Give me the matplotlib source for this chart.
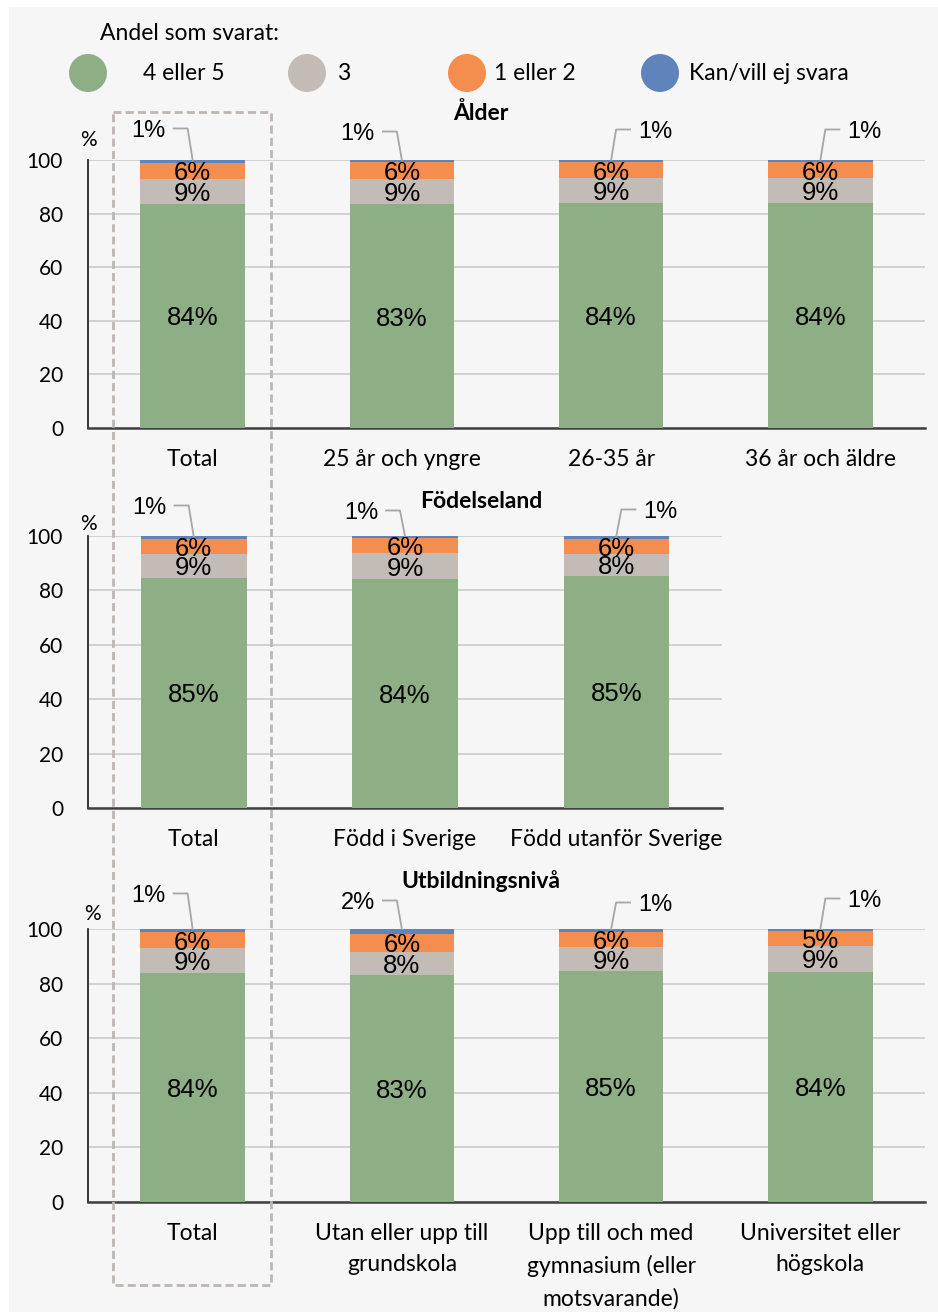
import matplotlib
matplotlib.use("Agg")
import matplotlib.pyplot as plt
from matplotlib.patches import Circle, Rectangle

# ---------------- data ----------------
series_names = ["4 eller 5", "3", "1 eller 2", "Kan/vill ej svara"]
colors = ["#8EAE85", "#C3BBB6", "#F48D4E", "#5F84BC"]

age_title = "Ålder"
age_categories = ["Total", "25 år och yngre", "26-35 år", "36 år och äldre"]
age_45 = [83.6, 83.4, 84.1, 84.1]
age_3 = [9.3, 9.4, 9.2, 9.2]
age_12 = [6.1, 6.3, 5.8, 5.9]
age_na = [1.0, 0.9, 0.9, 0.8]

birth_title = "Födelseland"
birth_categories = ["Total", "Född i Sverige", "Född utanför Sverige"]
birth_45 = [84.7, 84.2, 85.4]
birth_3 = [8.7, 9.4, 7.9]
birth_12 = [5.6, 5.6, 5.6]
birth_na = [1.0, 0.8, 1.1]

edu_title = "Utbildningsnivå"
edu_categories = ["Total", "Utan eller upp till\ngrundskola",
                  "Upp till och med\ngymnasium (eller\nmotsvarande)",
                  "Universitet eller\nhögskola"]
edu_45 = [84.0, 83.3, 84.6, 84.4]
edu_3 = [8.9, 8.4, 8.7, 9.4]
edu_12 = [5.9, 6.4, 5.7, 5.4]
edu_na = [1.2, 1.9, 1.0, 0.8]

yticks = [0, 20, 40, 60, 80, 100]

# ---------------- layout (pixels) ----------------
W, H = 938, 1312
DPI = 100
UI = "Lato"
NUM = "Liberation Sans"
UI_SIZE = 16.5
TICK_SIZE = 15
BAR_SIZE = 18.5
LEAD_SIZE = 17

fig = plt.figure(figsize=(W / DPI, H / DPI), dpi=DPI, facecolor="white")

bg = fig.add_axes([0, 0, 1, 1], zorder=-10)
bg.set_xlim(0, W)
bg.set_ylim(H, 0)
bg.axis("off")
bg.add_patch(Rectangle((9, 7), W - 9, H - 7, facecolor="#F6F6F6", edgecolor="none"))

# legend
bg.text(100, 34, "Andel som svarat:", family=UI, fontsize=UI_SIZE, va="center", ha="left")
leg_circ_x = [88, 307, 467, 660]
leg_text_x = [143, 337, 494, 689]
for cx, tx, c, name in zip(leg_circ_x, leg_text_x, colors, series_names):
    bg.add_patch(Circle((cx, 73), 19, facecolor=c, edgecolor="none"))
    bg.text(tx, 74, name, family=UI, fontsize=UI_SIZE, va="center", ha="left")


def px_axes(left, top, right, bottom):
    return fig.add_axes([left / W, 1 - bottom / H, (right - left) / W, (bottom - top) / H])


def panel(box, title, title_y, pct_xy, cats, s45, s3, s12, sna, leaders):
    left, top, right, bottom = box
    ax = px_axes(left, top, right, bottom)
    ax.set_facecolor("none")
    n = len(cats)
    x = list(range(n))
    slot_px = (right - left) / n
    unit_px = (bottom - top) / 100.0
    bottoms = [0.0] * n
    for vals, c in zip([s45, s3, s12, sna], colors):
        ax.bar(x, vals, width=0.5, bottom=bottoms, color=c, edgecolor="none", zorder=3)
        bottoms = [b + v for b, v in zip(bottoms, vals)]
    # inside labels
    shift = -2.5 / unit_px
    for i in range(n):
        b = 0
        for vals in (s45, s3, s12):
            v = vals[i]
            ax.text(x[i], b + v / 2 + shift, f"{round(v)}%",
                    ha="center", va="center", family=NUM, fontsize=BAR_SIZE, zorder=5)
            b += v
    # leader labels for the small series
    for i, (side, up_px) in enumerate(leaders):
        top_val = s45[i] + s3[i] + s12[i] + sna[i]
        s = -1 if side == "left" else 1
        ly = top_val + up_px / unit_px
        xs = [x[i] + s * 19 / slot_px, x[i] + s * 5 / slot_px, x[i]]
        ys = [ly + 1.5 / unit_px, ly + 1.5 / unit_px, top_val]
        ax.plot(xs, ys, color="#A6A6A6", lw=1.3, clip_on=False, zorder=4)
        ax.text(x[i] + s * 44 / slot_px, ly - 1.0 / unit_px, f"{round(sna[i])}%",
                ha="center", va="center", family=NUM, fontsize=LEAD_SIZE, clip_on=False)
    ax.set_xlim(-0.5, n - 0.5)
    ax.set_ylim(0, 100)
    ax.set_yticks(yticks)
    ax.yaxis.grid(True, color="#CBCBCB", lw=1.2, zorder=0)
    ax.set_axisbelow(True)
    ax.set_xticks(x)
    ax.set_xticklabels(cats, family=UI, fontsize=UI_SIZE)
    for lab in ax.get_xticklabels():
        lab.set_linespacing(1.62)
    ax.set_yticklabels([str(t) for t in yticks], family=UI, fontsize=TICK_SIZE)
    ax.tick_params(axis="x", length=0, pad=15)
    ax.tick_params(axis="y", length=0, pad=18)
    for sp in ("top", "right"):
        ax.spines[sp].set_visible(False)
    ax.spines["left"].set_color("#262626")
    ax.spines["left"].set_linewidth(1.3)
    ax.spines["bottom"].set_color("#404040")
    ax.spines["bottom"].set_linewidth(1.8)
    bg.text(481, title_y, title, family=UI, fontsize=UI_SIZE, fontweight="bold",
            ha="center", va="center")
    bg.text(pct_xy[0], pct_xy[1], "%", family=UI, fontsize=TICK_SIZE, ha="center", va="center")
    return ax


panel((88, 160, 925, 428), age_title, 113, (88, 140), age_categories,
      age_45, age_3, age_12, age_na,
      [("left", 30), ("left", 27), ("right", 29), ("right", 29)])
panel((88, 536, 722, 808), birth_title, 501, (88, 524), birth_categories,
      birth_45, birth_3, birth_12, birth_na,
      [("left", 29), ("left", 24), ("right", 25)])
panel((88, 929, 925, 1202), edu_title, 881, (92, 914), edu_categories,
      edu_45, edu_3, edu_12, edu_na,
      [("left", 34), ("left", 27), ("right", 25), ("right", 29)])

# dashed highlight box around the Total column
ov = fig.add_axes([0, 0, 1, 1], zorder=20)
ov.set_xlim(0, W)
ov.set_ylim(H, 0)
ov.axis("off")
ov.patch.set_alpha(0)
ov.add_patch(Rectangle((113, 112), 158, 1173, facecolor="none", edgecolor="#BDB6B2",
                       lw=2, linestyle=(0, (2.9, 1.5))))

fig.savefig("out.png", dpi=DPI, facecolor="white")
